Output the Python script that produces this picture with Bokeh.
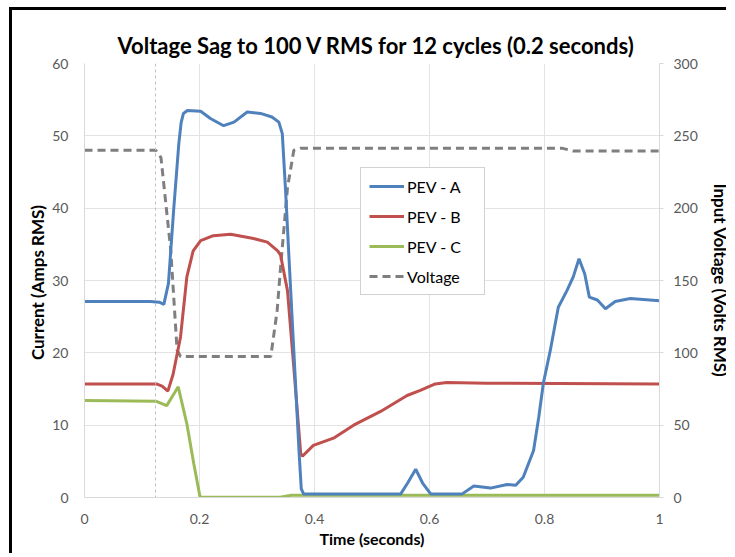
from bokeh.plotting import figure
from bokeh.models import Range1d, LinearAxis, Legend, LegendItem, Span, FixedTicker
from bokeh.embed import file_html
from bokeh.resources import INLINE

# ---- data ----
t_a = [0, 0.115, 0.13, 0.138, 0.146, 0.150, 0.155, 0.164, 0.168, 0.172, 0.179, 0.202, 0.219, 0.242, 0.26,
       0.283, 0.306, 0.326, 0.338, 0.344, 0.350, 0.355, 0.364, 0.373, 0.377, 0.381, 0.55, 0.562,
       0.576, 0.588, 0.602, 0.657, 0.677, 0.706, 0.735, 0.75, 0.763, 0.781, 0.79, 0.798, 0.81,
       0.824, 0.839, 0.85, 0.86, 0.87, 0.878, 0.892, 0.906, 0.923, 0.949, 1.0]
pev_a = [27.1, 27.1, 27.0, 26.7, 29.6, 34.1, 39.7, 48.9, 51.8, 53.1, 53.5, 53.4, 52.4, 51.4, 51.9,
         53.3, 53.1, 52.6, 51.9, 50.3, 42.0, 34.1, 20.3, 6.5, 1.2, 0.5, 0.5, 2.0,
         3.9, 2.0, 0.5, 0.5, 1.6, 1.3, 1.8, 1.7, 2.8, 6.5, 11.1, 15.8, 20.3,
         26.3, 28.6, 30.5, 33.0, 30.9, 27.7, 27.3, 26.1, 27.1, 27.5, 27.2]

t_b = [0, 0.125, 0.135, 0.145, 0.154, 0.167, 0.178, 0.189, 0.202, 0.224, 0.254, 0.294, 0.318,
       0.336, 0.341, 0.353, 0.364, 0.376, 0.379, 0.398, 0.433, 0.468, 0.515, 0.561, 0.584, 0.61,
       0.63, 0.7, 1.0]
pev_b = [15.7, 15.7, 15.4, 14.7, 17.0, 22.2, 30.5, 34.1, 35.5, 36.2, 36.4, 35.8, 35.3,
         34.1, 33.5, 28.6, 18.0, 6.1, 5.7, 7.2, 8.2, 10.0, 11.9, 14.1, 14.8, 15.7,
         15.9, 15.8, 15.7]

t_c = [0, 0.125, 0.143, 0.163, 0.178, 0.19, 0.201, 0.34, 0.36, 1.0]
pev_c = [13.4, 13.3, 12.7, 15.3, 10.2, 4.7, 0.05, 0.05, 0.3, 0.3]

t_v = [0, 0.124, 0.133, 0.15, 0.161, 0.167, 0.324, 0.335, 0.341, 0.353, 0.364, 0.376, 0.83, 0.85, 1.0]
volt = [240, 240, 235, 171, 102, 97.5, 97.5, 129, 159, 214, 240, 241.5, 241.5, 239.5, 239.5]

sag_start = 0.1235
x_ticks = [0, 0.2, 0.4, 0.6, 0.8, 1]
x_tick_labels = {0: "0", 0.2: "0.2", 0.4: "0.4", 0.6: "0.6", 0.8: "0.8", 1: "1"}
yl_ticks = [0, 10, 20, 30, 40, 50, 60]
yr_ticks = [0, 50, 100, 150, 200, 250, 300]

FONT = "Lato"
TICKC = "#595959"
GRID = "#e3e3e3"

p = figure(width=722, height=546, output_backend="svg", toolbar_location=None,
           x_range=Range1d(0, 1), y_range=Range1d(0, 60),
           min_border_left=72, min_border_right=75, min_border_top=53, min_border_bottom=59,
           title="Voltage Sag to 100 V RMS for 12 cycles (0.2 seconds)")
p.extra_y_ranges = {"v": Range1d(0, 300)}
p.styles = {"border-top": "3px solid black", "border-left": "3px solid black",
            "margin-left": "9px", "margin-top": "7px",
            "clip-path": "inset(0px 5px 0px 0px)"}

p.title.text_font = FONT
p.title.text_font_size = "22px"
p.title.text_font_style = "bold"
p.title.text_color = "#000000"
p.title.align = "left"
p.title.offset = 33
p.outline_line_color = None

p.xgrid.ticker = FixedTicker(ticks=x_ticks)
p.ygrid.ticker = FixedTicker(ticks=yl_ticks)
p.xgrid.grid_line_color = GRID
p.ygrid.grid_line_color = GRID

def style_axis(ax, label_size):
    ax.axis_line_color = "#d9d9d9"
    ax.major_tick_line_color = None
    ax.minor_tick_line_color = None
    ax.major_tick_out = 0
    ax.major_tick_in = 0
    ax.major_label_text_font = FONT
    ax.major_label_text_font_size = "14px"
    ax.major_label_text_color = TICKC
    ax.axis_label_text_font = FONT
    ax.axis_label_text_font_size = label_size
    ax.axis_label_text_font_style = "bold"
    ax.axis_label_text_color = "#000000"

xa = p.xaxis[0]
style_axis(xa, "16px")
xa.ticker = FixedTicker(ticks=x_ticks)
xa.major_label_overrides = x_tick_labels
xa.axis_label = "Time (seconds)"
xa.major_label_standoff = 16
xa.axis_label_standoff = 2

ya = p.yaxis[0]
style_axis(ya, "17px")
ya.ticker = FixedTicker(ticks=yl_ticks)
ya.axis_label = "Current  (Amps RMS)"
ya.major_label_standoff = 16
ya.axis_label_standoff = 1

yr = LinearAxis(y_range_name="v", ticker=FixedTicker(ticks=yr_ticks), axis_label="Input Voltage (Volts RMS)")
style_axis(yr, "17px")
yr.major_tick_line_color = "#d9d9d9"
yr.major_tick_out = 4
yr.major_label_standoff = 10
yr.axis_label_standoff = 9
p.add_layout(yr, "right")

p.add_layout(Span(location=sag_start, dimension="height", line_color="#bfbfbf",
                  line_width=1, line_dash="3 3"))

W = 3
rv = p.line(t_v, volt, y_range_name="v", line_color="#7f7f7f", line_width=W, line_dash="8 5")
rc = p.line(t_c, pev_c, line_color="#9BBB59", line_width=W)
rb = p.line(t_b, pev_b, line_color="#C0504D", line_width=W)
ra = p.line(t_a, pev_a, line_color="#4F81BD", line_width=W)

legend = Legend(items=[LegendItem(label="PEV - A", renderers=[ra]),
                       LegendItem(label="PEV - B", renderers=[rb]),
                       LegendItem(label="PEV - C", renderers=[rc]),
                       LegendItem(label="Voltage", renderers=[rv])],
                location=(276, 202))
legend.label_text_font = FONT
legend.label_text_font_size = "16px"
legend.label_text_color = "#000000"
legend.glyph_width = 35
legend.glyph_height = 20
legend.label_height = 20
legend.label_width = 69
legend.label_standoff = 3
legend.spacing = 10
legend.padding = 8
legend.margin = 0
legend.border_line_color = "#a6a6a6"
legend.border_line_width = 1
legend.background_fill_alpha = 1
p.add_layout(legend, "center")

open("out.html", "w").write(file_html(p, INLINE))
